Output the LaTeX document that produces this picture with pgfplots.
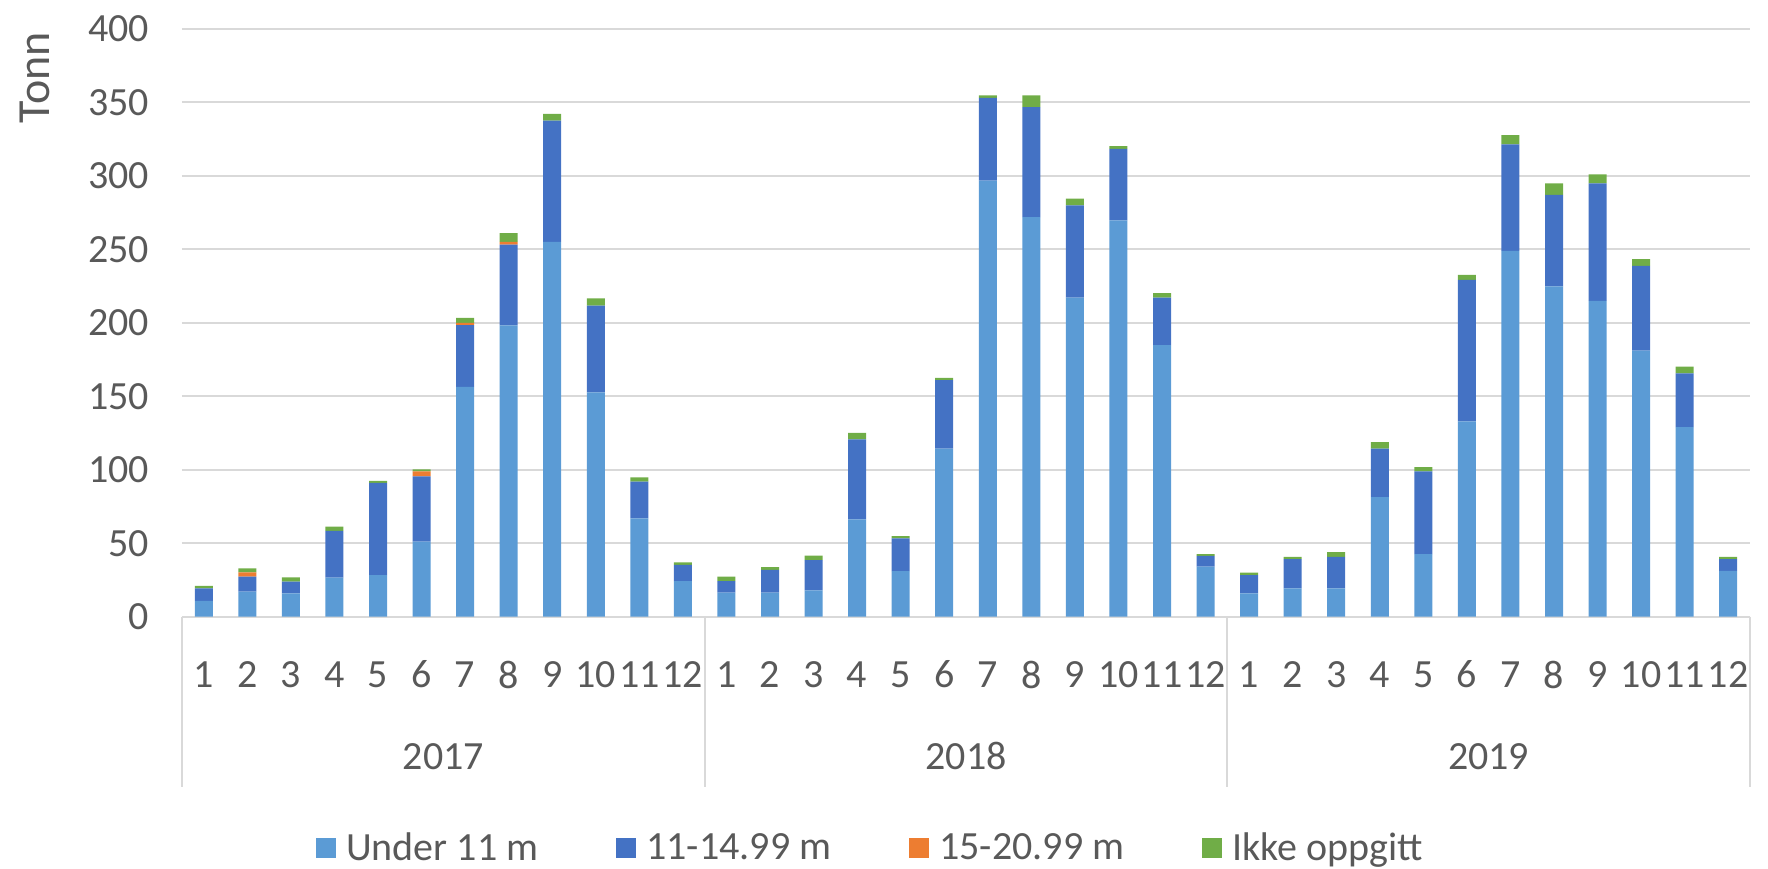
\documentclass[border=0pt]{standalone}
\usepackage{fontspec}
\setmainfont{Carlito}
\usepackage{pgfplots}
\pgfplotsset{compat=1.18}
\usepackage{pgfplotstable}
\definecolor{c1}{HTML}{5B9BD5}
\definecolor{c2}{HTML}{4472C4}
\definecolor{c3}{HTML}{ED7D31}
\definecolor{c4}{HTML}{70AD47}
\definecolor{txt}{HTML}{595959}
\definecolor{grd}{HTML}{D9D9D9}
\pgfplotstableread{
x a b c d
0 10.7 8.6 0 1.6
1 17.0 10.2 3.0 2.7
2 15.9 7.9 0 3.0
3 26.5 31.9 0 2.8
4 28.3 62.8 0 1.3
5 51.0 44.4 3.4 1.4
6 156.3 42.1 1.4 3.4
7 198.2 54.9 1.8 6.1
8 255.0 82.5 0 4.5
9 152.6 59.0 0 4.9
10 66.8 25.0 0 3.0
11 24.2 11.1 0 1.7
12 16.3 7.9 0 3.0
13 16.3 15.6 0 1.8
14 17.9 20.5 0 3.2
15 66.2 54.4 0 4.4
16 31.0 22.3 0 1.5
17 114.4 46.5 0 1.5
18 296.7 56.3 0 1.6
19 271.8 74.8 0 8.0
20 217.1 62.7 0 4.6
21 269.6 48.7 0 1.8
22 184.7 32.4 0 3.1
23 34.0 7.3 0 1.3
24 15.8 12.5 0 1.6
25 19.2 19.9 0 1.6
26 19.2 21.5 0 3.2
27 81.4 32.9 0 4.5
28 42.5 56.4 0 2.9
29 132.8 96.4 0 3.4
30 248.9 72.4 0 6.3
31 224.7 62.2 0 7.9
32 214.9 79.9 0 6.1
33 181.0 57.7 0 4.5
34 129.0 36.6 0 4.5
35 31.2 7.9 0 1.6
}\data
\begin{document}
\begin{tikzpicture}[font=\fontsize{20pt}{24pt}\selectfont]
\begin{axis}[
  scale only axis, width=784pt, height=294pt,
  xmin=-0.5, xmax=35.5, ymin=0, ymax=400,
  ybar stacked, bar width=9pt,
  xtick={0,...,35},
  xticklabels={1,2,3,4,5,6,7,8,9,10,11,12,1,2,3,4,5,6,7,8,9,10,11,12,1,2,3,4,5,6,7,8,9,10,11,12},
  ytick={0,50,...,400},
  ymajorgrids, grid style={grd, line width=1pt},
  axis line style={draw=none},
  major tick length=0pt,
  tick label style={font=\fontsize{20pt}{24pt}\selectfont, text=txt},
  /pgf/number format/assume math mode=true,
  xticklabel style={anchor=center, yshift=-28.9pt},
  yticklabel style={xshift=-13pt},
  ylabel={Tonn},
  ylabel style={at={([xshift=-66pt,yshift=-1.6pt]rel axis cs:0,1)}, anchor=south east, inner sep=0pt, text=txt, font=\fontsize{23pt}{27pt}\selectfont},
  clip=false,
  legend columns=4,
  legend style={at={(axis description cs:0.4417,0)}, anchor=center, yshift=-115.5pt, draw=none, fill=none,
    font=\fontsize{20pt}{24pt}\selectfont, text=txt,
    /tikz/every even column/.append style={column sep=34pt},
    nodes={inner xsep=5pt}},
  legend image code/.code={\fill[#1] (0pt,-5pt) rectangle (10pt,5pt);},
]
\addplot[fill=c1, draw=none] table[x=x, y=a] {\data};
\addplot[fill=c2, draw=none] table[x=x, y=b] {\data};
\addplot[fill=c3, draw=none] table[x=x, y=c] {\data};
\addplot[fill=c4, draw=none] table[x=x, y=d] {\data};
\legend{Under 11 m, 11-14.99 m, 15-20.99 m, Ikke oppgitt}
\foreach \s in {-0.5,11.5,23.5,35.5}{
  \edef\tmp{\noexpand\draw[grd, line width=1pt] (axis cs:\s,0) -- ([yshift=-85pt]axis cs:\s,0);}\tmp
}
\node[text=txt] at ([yshift=-69.8pt]axis cs:5.5,0) {2017};
\node[text=txt] at ([yshift=-69.8pt]axis cs:17.5,0) {2018};
\node[text=txt] at ([yshift=-69.8pt]axis cs:29.5,0) {2019};
\end{axis}
\pgfresetboundingbox
\path ([shift={(-91pt,-126.15pt)}]current axis.south west) rectangle ([shift={(9pt,14.35pt)}]current axis.north east);
\end{tikzpicture}
\end{document}
